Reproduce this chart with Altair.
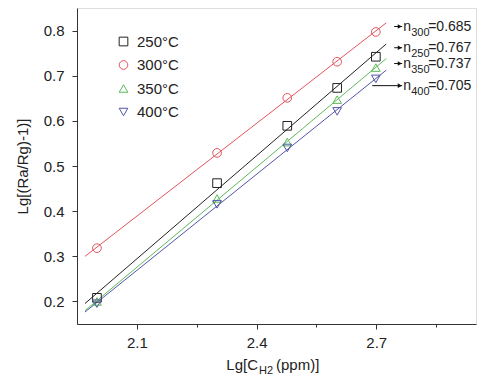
import altair as alt
import pandas as pd

FONT = "Liberation Sans"

# ---- data ----
temps = ["250°C", "300°C", "350°C", "400°C"]
x_lg = [2.0, 2.301, 2.477, 2.602, 2.699]
y_250 = [0.208, 0.462, 0.589, 0.673, 0.742]
y_300 = [0.318, 0.529, 0.651, 0.731, 0.797]
y_350 = [0.200, 0.428, 0.553, 0.647, 0.718]
y_400 = [0.195, 0.415, 0.540, 0.621, 0.693]

ann_sub = ["300", "250", "350", "400"]
ann_slope = ["0.685", "0.767", "0.737", "0.705"]
ann_y = [0.809, 0.762, 0.727, 0.678]
ann_x0 = [2.745, 2.745, 2.745, 2.69]
arrow_tip = 2.765

x_ticks = [2.1, 2.25, 2.4, 2.55, 2.7, 2.85]
y_ticks = [0.2, 0.25, 0.3, 0.35, 0.4, 0.45, 0.5, 0.55, 0.6, 0.65, 0.7, 0.75, 0.8]

colors = ["#222222", "#e2545e", "#5db95a", "#5156a8"]
shapes = ["square", "circle", "triangle-up", "triangle-down"]

series = [y_250, y_300, y_350, y_400]
rows = []
for t, ys in zip(temps, series):
    for xv, yv in zip(x_lg, ys):
        rows.append({"temp": t, "x": xv, "y": yv})
df = pd.DataFrame(rows)

ann = pd.DataFrame({
    "sub": ann_sub,
    "eq": ["=" + s for s in ann_slope],
    "y": ann_y,
    "x0": ann_x0,
})

minor_test = "abs(datum.value*10 - round(datum.value*10)) > 0.01"
tick_size = {"condition": {"test": minor_test, "value": 3}, "value": 5}
label_expr = "abs(datum.value*10 - round(datum.value*10)) > 0.01 ? '' : datum.label"

xs = alt.Scale(domain=[1.95, 2.95], nice=False, zero=False)
ys = alt.Scale(domain=[0.15, 0.85], nice=False, zero=False)

x_axis = alt.Axis(values=x_ticks, labelExpr=label_expr, tickSize=tick_size,
                  format=".1f", labelFontSize=15, labelFont=FONT, labelColor="#222",
                  labelPadding=6, domainColor="#333", tickColor="#333", grid=False)
y_axis = alt.Axis(values=y_ticks, labelExpr=label_expr, tickSize=tick_size,
                  format=".1f", labelFontSize=15, labelFont=FONT, labelColor="#222",
                  labelPadding=8, domainColor="#333", tickColor="#333", grid=False,
                  titleFont=FONT, titleFontSize=15, titleFontWeight="normal",
                  titleColor="#222", titlePadding=13)

YT = "Lg[(Ra/Rg)-1)]"

leg = alt.Legend(orient="none", legendX=39, legendY=26, title=None,
                 labelFont=FONT, labelFontSize=15, labelColor="#222",
                 symbolSize=75, symbolStrokeWidth=1, rowPadding=7.5,
                 labelOffset=6, padding=0, symbolFillColor="transparent")

cscale = alt.Scale(domain=temps, range=colors)
sscale = alt.Scale(domain=temps, range=shapes)

base = alt.Chart(df)

lines = base.transform_regression(
    "x", "y", groupby=["temp"], extent=[1.97, 2.725]
).mark_line(strokeWidth=1, clip=False).encode(
    x=alt.X("x:Q", scale=xs, axis=x_axis, title=None),
    y=alt.Y("y:Q", scale=ys, axis=y_axis, title=YT),
    color=alt.Color("temp:N", scale=cscale, legend=leg),
    detail="temp:N",
)

points = base.mark_point(filled=False, size=75, strokeWidth=1, opacity=1).encode(
    x=alt.X("x:Q", scale=xs, title=None),
    y=alt.Y("y:Q", scale=ys, title=YT),
    color=alt.Color("temp:N", scale=cscale, legend=leg),
    shape=alt.Shape("temp:N", scale=sscale, legend=leg),
)

ann_base = alt.Chart(ann)
arrows = ann_base.mark_rule(color="#111", strokeWidth=1).encode(
    x=alt.X("x0:Q", scale=xs, title=None),
    x2=alt.datum(arrow_tip),
    y=alt.Y("y:Q", scale=ys, title=YT),
)
heads = ann_base.mark_point(shape="triangle-right", filled=True, size=22,
                            color="#111", opacity=1).encode(
    x=alt.datum(arrow_tip - 0.006),
    y=alt.Y("y:Q", scale=ys, title=YT),
)
n_txt = ann_base.mark_text(align="left", baseline="middle", dx=1, fontSize=14,
                           font=FONT, color="#222").encode(
    x=alt.datum(arrow_tip), y=alt.Y("y:Q", scale=ys, title=YT), text=alt.value("n"))
sub_txt = ann_base.mark_text(align="left", baseline="middle", dx=9, dy=6, fontSize=11,
                             font=FONT, color="#222").encode(
    x=alt.datum(arrow_tip), y=alt.Y("y:Q", scale=ys, title=YT), text="sub:N")
eq_txt = ann_base.mark_text(align="left", baseline="middle", dx=26, fontSize=14,
                            font=FONT, color="#222").encode(
    x=alt.datum(arrow_tip), y=alt.Y("y:Q", scale=ys, title=YT), text="eq:N")

one = alt.Data(values=[{"a": 1}])
xt1 = alt.Chart(one).mark_text(align="right", baseline="alphabetic", fontSize=15,
                               font=FONT, color="#222").encode(
    x=alt.value(181), y=alt.value(362), text=alt.value("Lg[C"))
xt2 = alt.Chart(one).mark_text(align="left", baseline="alphabetic", fontSize=11,
                               font=FONT, color="#222").encode(
    x=alt.value(182), y=alt.value(366), text=alt.value("H2"))
xt3 = alt.Chart(one).mark_text(align="left", baseline="alphabetic", fontSize=15,
                               font=FONT, color="#222").encode(
    x=alt.value(199), y=alt.value(362), text=alt.value("(ppm)]"))

chart = alt.layer(lines, points, arrows, heads, n_txt, sub_txt, eq_txt, xt1, xt2, xt3).properties(
    width=399, height=316,
    autosize=alt.AutoSizeParams(type="none"),
    padding={"left": 69, "top": 0, "right": 16, "bottom": 51},
).configure_view(stroke="#555", strokeWidth=1.5).configure(background="white")

chart.save("out.html", embed_options={"renderer": "svg", "actions": False})
